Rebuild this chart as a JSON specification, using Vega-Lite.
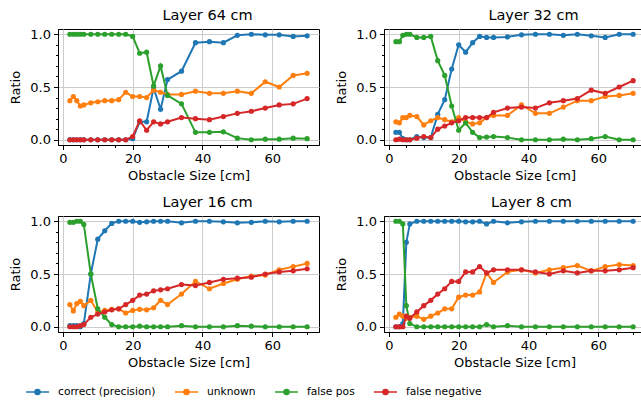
{
  "$schema": "https://vega.github.io/schema/vega-lite/v6.json",
  "padding": {"left": 9, "top": 7, "right": 0, "bottom": 0},
  "background": "white",
  "data": {"values": [
    {"p":"Layer 64 cm","x":2,"correct (precision)":0,"unknown":0.37,"false pos":1,"false negative":0},
    {"p":"Layer 64 cm","x":3,"correct (precision)":0,"unknown":0.41,"false pos":1,"false negative":0},
    {"p":"Layer 64 cm","x":4,"correct (precision)":0,"unknown":0.37,"false pos":1,"false negative":0},
    {"p":"Layer 64 cm","x":5,"correct (precision)":0,"unknown":0.32,"false pos":1,"false negative":0},
    {"p":"Layer 64 cm","x":6,"correct (precision)":0,"unknown":0.33,"false pos":1,"false negative":0},
    {"p":"Layer 64 cm","x":8,"correct (precision)":0,"unknown":0.35,"false pos":1,"false negative":0},
    {"p":"Layer 64 cm","x":10,"correct (precision)":0,"unknown":0.36,"false pos":1,"false negative":0},
    {"p":"Layer 64 cm","x":12,"correct (precision)":0,"unknown":0.37,"false pos":1,"false negative":0},
    {"p":"Layer 64 cm","x":14,"correct (precision)":0,"unknown":0.37,"false pos":1,"false negative":0},
    {"p":"Layer 64 cm","x":16,"correct (precision)":0,"unknown":0.38,"false pos":1,"false negative":0},
    {"p":"Layer 64 cm","x":18,"correct (precision)":0,"unknown":0.45,"false pos":1,"false negative":0},
    {"p":"Layer 64 cm","x":20,"correct (precision)":0.01,"unknown":0.41,"false pos":0.98,"false negative":0.03},
    {"p":"Layer 64 cm","x":22,"correct (precision)":0.17,"unknown":0.41,"false pos":0.82,"false negative":0.18},
    {"p":"Layer 64 cm","x":24,"correct (precision)":0.17,"unknown":0.40,"false pos":0.83,"false negative":0.09},
    {"p":"Layer 64 cm","x":26,"correct (precision)":0.49,"unknown":0.47,"false pos":0.51,"false negative":0.17},
    {"p":"Layer 64 cm","x":28,"correct (precision)":0.29,"unknown":0.45,"false pos":0.70,"false negative":0.15},
    {"p":"Layer 64 cm","x":30,"correct (precision)":0.57,"unknown":0.43,"false pos":0.42,"false negative":0.17},
    {"p":"Layer 64 cm","x":34,"correct (precision)":0.65,"unknown":0.43,"false pos":0.34,"false negative":0.21},
    {"p":"Layer 64 cm","x":38,"correct (precision)":0.92,"unknown":0.46,"false pos":0.07,"false negative":0.20},
    {"p":"Layer 64 cm","x":42,"correct (precision)":0.93,"unknown":0.44,"false pos":0.07,"false negative":0.19},
    {"p":"Layer 64 cm","x":46,"correct (precision)":0.92,"unknown":0.44,"false pos":0.075,"false negative":0.22},
    {"p":"Layer 64 cm","x":50,"correct (precision)":0.99,"unknown":0.46,"false pos":0.015,"false negative":0.25},
    {"p":"Layer 64 cm","x":54,"correct (precision)":1.0,"unknown":0.44,"false pos":0,"false negative":0.27},
    {"p":"Layer 64 cm","x":58,"correct (precision)":0.995,"unknown":0.55,"false pos":0.005,"false negative":0.30},
    {"p":"Layer 64 cm","x":62,"correct (precision)":0.995,"unknown":0.50,"false pos":0.005,"false negative":0.33},
    {"p":"Layer 64 cm","x":66,"correct (precision)":0.98,"unknown":0.61,"false pos":0.015,"false negative":0.34},
    {"p":"Layer 64 cm","x":70,"correct (precision)":0.985,"unknown":0.63,"false pos":0.01,"false negative":0.39},

    {"p":"Layer 32 cm","x":2,"correct (precision)":0.07,"unknown":0.17,"false pos":0.93,"false negative":0},
    {"p":"Layer 32 cm","x":3,"correct (precision)":0.07,"unknown":0.16,"false pos":0.93,"false negative":0.005},
    {"p":"Layer 32 cm","x":4,"correct (precision)":0.01,"unknown":0.21,"false pos":0.99,"false negative":0},
    {"p":"Layer 32 cm","x":5,"correct (precision)":0,"unknown":0.21,"false pos":1.0,"false negative":0},
    {"p":"Layer 32 cm","x":6,"correct (precision)":0,"unknown":0.23,"false pos":1.0,"false negative":0},
    {"p":"Layer 32 cm","x":8,"correct (precision)":0.03,"unknown":0.22,"false pos":0.97,"false negative":0.015},
    {"p":"Layer 32 cm","x":10,"correct (precision)":0.02,"unknown":0.14,"false pos":0.97,"false negative":0.03},
    {"p":"Layer 32 cm","x":12,"correct (precision)":0.02,"unknown":0.18,"false pos":0.98,"false negative":0.02},
    {"p":"Layer 32 cm","x":14,"correct (precision)":0.24,"unknown":0.21,"false pos":0.75,"false negative":0.10},
    {"p":"Layer 32 cm","x":16,"correct (precision)":0.38,"unknown":0.19,"false pos":0.61,"false negative":0.13},
    {"p":"Layer 32 cm","x":18,"correct (precision)":0.67,"unknown":0.17,"false pos":0.32,"false negative":0.16},
    {"p":"Layer 32 cm","x":20,"correct (precision)":0.90,"unknown":0.21,"false pos":0.09,"false negative":0.18},
    {"p":"Layer 32 cm","x":22,"correct (precision)":0.83,"unknown":0.17,"false pos":0.16,"false negative":0.21},
    {"p":"Layer 32 cm","x":24,"correct (precision)":0.92,"unknown":0.15,"false pos":0.07,"false negative":0.21},
    {"p":"Layer 32 cm","x":26,"correct (precision)":0.98,"unknown":0.16,"false pos":0.02,"false negative":0.21},
    {"p":"Layer 32 cm","x":28,"correct (precision)":0.97,"unknown":0.21,"false pos":0.025,"false negative":0.21},
    {"p":"Layer 32 cm","x":30,"correct (precision)":0.97,"unknown":0.23,"false pos":0.03,"false negative":0.26},
    {"p":"Layer 32 cm","x":34,"correct (precision)":0.975,"unknown":0.23,"false pos":0.02,"false negative":0.30},
    {"p":"Layer 32 cm","x":38,"correct (precision)":0.995,"unknown":0.33,"false pos":0,"false negative":0.31},
    {"p":"Layer 32 cm","x":42,"correct (precision)":1.0,"unknown":0.25,"false pos":0,"false negative":0.30},
    {"p":"Layer 32 cm","x":46,"correct (precision)":1.0,"unknown":0.25,"false pos":0,"false negative":0.35},
    {"p":"Layer 32 cm","x":50,"correct (precision)":0.99,"unknown":0.31,"false pos":0.005,"false negative":0.37},
    {"p":"Layer 32 cm","x":54,"correct (precision)":1.0,"unknown":0.37,"false pos":0,"false negative":0.39},
    {"p":"Layer 32 cm","x":58,"correct (precision)":0.985,"unknown":0.37,"false pos":0.01,"false negative":0.47},
    {"p":"Layer 32 cm","x":62,"correct (precision)":0.97,"unknown":0.41,"false pos":0.03,"false negative":0.44},
    {"p":"Layer 32 cm","x":66,"correct (precision)":1.0,"unknown":0.42,"false pos":0,"false negative":0.50},
    {"p":"Layer 32 cm","x":70,"correct (precision)":1.0,"unknown":0.44,"false pos":0,"false negative":0.56},

    {"p":"Layer 16 cm","x":2,"correct (precision)":0.01,"unknown":0.21,"false pos":0.99,"false negative":0},
    {"p":"Layer 16 cm","x":3,"correct (precision)":0.01,"unknown":0.15,"false pos":0.99,"false negative":0},
    {"p":"Layer 16 cm","x":4,"correct (precision)":0.01,"unknown":0.22,"false pos":1.0,"false negative":0},
    {"p":"Layer 16 cm","x":5,"correct (precision)":0,"unknown":0.24,"false pos":1.0,"false negative":0.01},
    {"p":"Layer 16 cm","x":6,"correct (precision)":0.03,"unknown":0.20,"false pos":0.97,"false negative":0.02},
    {"p":"Layer 16 cm","x":8,"correct (precision)":0.5,"unknown":0.25,"false pos":0.50,"false negative":0.09},
    {"p":"Layer 16 cm","x":10,"correct (precision)":0.83,"unknown":0.14,"false pos":0.17,"false negative":0.12},
    {"p":"Layer 16 cm","x":12,"correct (precision)":0.91,"unknown":0.155,"false pos":0.09,"false negative":0.14},
    {"p":"Layer 16 cm","x":14,"correct (precision)":0.98,"unknown":0.165,"false pos":0.02,"false negative":0.16},
    {"p":"Layer 16 cm","x":16,"correct (precision)":1.0,"unknown":0.17,"false pos":0,"false negative":0.17},
    {"p":"Layer 16 cm","x":18,"correct (precision)":1.0,"unknown":0.13,"false pos":0,"false negative":0.21},
    {"p":"Layer 16 cm","x":20,"correct (precision)":1.0,"unknown":0.155,"false pos":0,"false negative":0.25},
    {"p":"Layer 16 cm","x":22,"correct (precision)":0.99,"unknown":0.165,"false pos":0.005,"false negative":0.30},
    {"p":"Layer 16 cm","x":24,"correct (precision)":0.995,"unknown":0.16,"false pos":0,"false negative":0.31},
    {"p":"Layer 16 cm","x":26,"correct (precision)":1.0,"unknown":0.18,"false pos":0,"false negative":0.34},
    {"p":"Layer 16 cm","x":28,"correct (precision)":1.0,"unknown":0.25,"false pos":0,"false negative":0.35},
    {"p":"Layer 16 cm","x":30,"correct (precision)":1.0,"unknown":0.21,"false pos":0,"false negative":0.36},
    {"p":"Layer 16 cm","x":34,"correct (precision)":0.985,"unknown":0.31,"false pos":0.01,"false negative":0.40},
    {"p":"Layer 16 cm","x":38,"correct (precision)":1.0,"unknown":0.43,"false pos":0,"false negative":0.39},
    {"p":"Layer 16 cm","x":42,"correct (precision)":1.0,"unknown":0.36,"false pos":0,"false negative":0.42},
    {"p":"Layer 16 cm","x":46,"correct (precision)":0.995,"unknown":0.41,"false pos":0,"false negative":0.45},
    {"p":"Layer 16 cm","x":50,"correct (precision)":0.985,"unknown":0.45,"false pos":0.01,"false negative":0.46},
    {"p":"Layer 16 cm","x":54,"correct (precision)":0.99,"unknown":0.48,"false pos":0.005,"false negative":0.47},
    {"p":"Layer 16 cm","x":58,"correct (precision)":1.0,"unknown":0.49,"false pos":0,"false negative":0.50},
    {"p":"Layer 16 cm","x":62,"correct (precision)":0.995,"unknown":0.54,"false pos":0,"false negative":0.52},
    {"p":"Layer 16 cm","x":66,"correct (precision)":1.0,"unknown":0.57,"false pos":0,"false negative":0.53},
    {"p":"Layer 16 cm","x":70,"correct (precision)":1.0,"unknown":0.60,"false pos":0,"false negative":0.55},

    {"p":"Layer 8 cm","x":2,"correct (precision)":0,"unknown":0.09,"false pos":1,"false negative":0},
    {"p":"Layer 8 cm","x":3,"correct (precision)":0,"unknown":0.12,"false pos":1,"false negative":0},
    {"p":"Layer 8 cm","x":4,"correct (precision)":0.03,"unknown":0.10,"false pos":0.975,"false negative":0},
    {"p":"Layer 8 cm","x":5,"correct (precision)":0.80,"unknown":0.08,"false pos":0.20,"false negative":0.10},
    {"p":"Layer 8 cm","x":6,"correct (precision)":0.975,"unknown":0.09,"false pos":0.03,"false negative":0.08},
    {"p":"Layer 8 cm","x":8,"correct (precision)":1,"unknown":0.10,"false pos":0,"false negative":0.14},
    {"p":"Layer 8 cm","x":10,"correct (precision)":1,"unknown":0.07,"false pos":0,"false negative":0.20},
    {"p":"Layer 8 cm","x":12,"correct (precision)":1,"unknown":0.10,"false pos":0,"false negative":0.25},
    {"p":"Layer 8 cm","x":14,"correct (precision)":1,"unknown":0.13,"false pos":0,"false negative":0.31},
    {"p":"Layer 8 cm","x":16,"correct (precision)":1,"unknown":0.17,"false pos":0,"false negative":0.36},
    {"p":"Layer 8 cm","x":18,"correct (precision)":1,"unknown":0.17,"false pos":0,"false negative":0.43},
    {"p":"Layer 8 cm","x":20,"correct (precision)":1,"unknown":0.28,"false pos":0,"false negative":0.43},
    {"p":"Layer 8 cm","x":22,"correct (precision)":0.995,"unknown":0.30,"false pos":0,"false negative":0.52},
    {"p":"Layer 8 cm","x":24,"correct (precision)":0.995,"unknown":0.30,"false pos":0,"false negative":0.52},
    {"p":"Layer 8 cm","x":26,"correct (precision)":1.0,"unknown":0.33,"false pos":0,"false negative":0.57},
    {"p":"Layer 8 cm","x":28,"correct (precision)":0.975,"unknown":0.51,"false pos":0.02,"false negative":0.51},
    {"p":"Layer 8 cm","x":30,"correct (precision)":1.0,"unknown":0.42,"false pos":0,"false negative":0.54},
    {"p":"Layer 8 cm","x":34,"correct (precision)":0.985,"unknown":0.52,"false pos":0.01,"false negative":0.54},
    {"p":"Layer 8 cm","x":38,"correct (precision)":0.995,"unknown":0.54,"false pos":0,"false negative":0.54},
    {"p":"Layer 8 cm","x":42,"correct (precision)":1,"unknown":0.51,"false pos":0,"false negative":0.52},
    {"p":"Layer 8 cm","x":46,"correct (precision)":1,"unknown":0.54,"false pos":0,"false negative":0.50},
    {"p":"Layer 8 cm","x":50,"correct (precision)":1,"unknown":0.56,"false pos":0,"false negative":0.53},
    {"p":"Layer 8 cm","x":54,"correct (precision)":1,"unknown":0.58,"false pos":0,"false negative":0.51},
    {"p":"Layer 8 cm","x":58,"correct (precision)":1,"unknown":0.53,"false pos":0,"false negative":0.53},
    {"p":"Layer 8 cm","x":62,"correct (precision)":1,"unknown":0.57,"false pos":0,"false negative":0.53},
    {"p":"Layer 8 cm","x":66,"correct (precision)":1,"unknown":0.59,"false pos":0,"false negative":0.54},
    {"p":"Layer 8 cm","x":70,"correct (precision)":1,"unknown":0.58,"false pos":0,"false negative":0.56}
  ]},
  "transform": [{"fold": ["correct (precision)", "unknown", "false pos", "false negative"], "as": ["series", "v"]}],
  "columns": 2,
  "spacing": {"row": 11, "column": 15},
  "concat": [
    {
      "title": {"text": "Layer 64 cm", "dx": 19},
      "width": 261, "height": 116,
      "transform": [{"filter": "datum.p == 'Layer 64 cm'"}],
      "encoding": {
        "x": {"field": "x", "type": "quantitative", "scale": {"domain": [-1.4, 73.4], "nice": false, "zero": false},
          "axis": {"title": "Obstacle Size [cm]", "values": [0, 5, 10, 15, 20, 25, 30, 35, 40, 45, 50, 55, 60, 65, 70], "format": "d",
            "labelExpr": "datum.value % 20 == 0 ? datum.label : ''",
            "tickSize": {"condition": {"test": "datum.value % 20 == 0", "value": 4.5}, "value": 2.5},
            "gridOpacity": {"condition": {"test": "datum.value % 20 == 0", "value": 1}, "value": 0},
            "labelOverlap": false, "labelFlush": false}},
        "y": {"field": "v", "type": "quantitative", "scale": {"domain": [-0.05, 1.05], "nice": false, "zero": false},
          "axis": {"title": "Ratio", "titlePadding": 7, "values": [0, 0.1, 0.2, 0.3, 0.4, 0.5, 0.6, 0.7, 0.8, 0.9, 1], "format": ".1f",
            "labelExpr": "(datum.value == 0 || datum.value == 0.5 || datum.value == 1) ? datum.label : ''",
            "tickSize": {"condition": {"test": "datum.value == 0 || datum.value == 0.5 || datum.value == 1", "value": 4.5}, "value": 2.5},
            "gridOpacity": {"condition": {"test": "datum.value == 0 || datum.value == 0.5 || datum.value == 1", "value": 1}, "value": 0},
            "labelOverlap": false, "labelFlush": false}},
        "color": {"field": "series", "type": "nominal",
          "scale": {"domain": ["correct (precision)", "unknown", "false pos", "false negative"], "range": ["#1f77b4", "#ff7f0e", "#2ca02c", "#d62728"]},
          "legend": {"orient": "none", "legendX": -33, "legendY": 350, "direction": "horizontal", "title": null}}
      },
      "layer": [
        {"transform": [{"filter": "datum.series == 'correct (precision)'"}], "layer": [{"mark": {"type": "line", "strokeWidth": 2}}, {"mark": {"type": "point", "filled": true, "size": 27, "opacity": 1}}]},
        {"transform": [{"filter": "datum.series == 'unknown'"}], "layer": [{"mark": {"type": "line", "strokeWidth": 2}}, {"mark": {"type": "point", "filled": true, "size": 27, "opacity": 1}}]},
        {"transform": [{"filter": "datum.series == 'false pos'"}], "layer": [{"mark": {"type": "line", "strokeWidth": 2}}, {"mark": {"type": "point", "filled": true, "size": 27, "opacity": 1}}]},
        {"transform": [{"filter": "datum.series == 'false negative'"}], "layer": [{"mark": {"type": "line", "strokeWidth": 2}}, {"mark": {"type": "point", "filled": true, "size": 27, "opacity": 1}}]}
      ]
    },
    {
      "title": {"text": "Layer 32 cm", "dx": 19},
      "width": 261, "height": 116,
      "transform": [{"filter": "datum.p == 'Layer 32 cm'"}],
      "encoding": {
        "x": {"field": "x", "type": "quantitative", "scale": {"domain": [-1.4, 73.4], "nice": false, "zero": false},
          "axis": {"title": "Obstacle Size [cm]", "values": [0, 5, 10, 15, 20, 25, 30, 35, 40, 45, 50, 55, 60, 65, 70], "format": "d",
            "labelExpr": "datum.value % 20 == 0 ? datum.label : ''",
            "tickSize": {"condition": {"test": "datum.value % 20 == 0", "value": 4.5}, "value": 2.5},
            "gridOpacity": {"condition": {"test": "datum.value % 20 == 0", "value": 1}, "value": 0},
            "labelOverlap": false, "labelFlush": false}},
        "y": {"field": "v", "type": "quantitative", "scale": {"domain": [-0.05, 1.05], "nice": false, "zero": false},
          "axis": {"title": "Ratio", "titlePadding": 7, "values": [0, 0.1, 0.2, 0.3, 0.4, 0.5, 0.6, 0.7, 0.8, 0.9, 1], "format": ".1f",
            "labelExpr": "(datum.value == 0 || datum.value == 0.5 || datum.value == 1) ? datum.label : ''",
            "tickSize": {"condition": {"test": "datum.value == 0 || datum.value == 0.5 || datum.value == 1", "value": 4.5}, "value": 2.5},
            "gridOpacity": {"condition": {"test": "datum.value == 0 || datum.value == 0.5 || datum.value == 1", "value": 1}, "value": 0},
            "labelOverlap": false, "labelFlush": false}},
        "color": {"field": "series", "type": "nominal",
          "scale": {"domain": ["correct (precision)", "unknown", "false pos", "false negative"], "range": ["#1f77b4", "#ff7f0e", "#2ca02c", "#d62728"]},
          "legend": {"orient": "none", "legendX": -33, "legendY": 350, "direction": "horizontal", "title": null}}
      },
      "layer": [
        {"transform": [{"filter": "datum.series == 'correct (precision)'"}], "layer": [{"mark": {"type": "line", "strokeWidth": 2}}, {"mark": {"type": "point", "filled": true, "size": 27, "opacity": 1}}]},
        {"transform": [{"filter": "datum.series == 'unknown'"}], "layer": [{"mark": {"type": "line", "strokeWidth": 2}}, {"mark": {"type": "point", "filled": true, "size": 27, "opacity": 1}}]},
        {"transform": [{"filter": "datum.series == 'false pos'"}], "layer": [{"mark": {"type": "line", "strokeWidth": 2}}, {"mark": {"type": "point", "filled": true, "size": 27, "opacity": 1}}]},
        {"transform": [{"filter": "datum.series == 'false negative'"}], "layer": [{"mark": {"type": "line", "strokeWidth": 2}}, {"mark": {"type": "point", "filled": true, "size": 27, "opacity": 1}}]}
      ]
    },
    {
      "title": {"text": "Layer 16 cm", "dx": 19},
      "width": 261, "height": 116,
      "transform": [{"filter": "datum.p == 'Layer 16 cm'"}],
      "encoding": {
        "x": {"field": "x", "type": "quantitative", "scale": {"domain": [-1.4, 73.4], "nice": false, "zero": false},
          "axis": {"title": "Obstacle Size [cm]", "values": [0, 5, 10, 15, 20, 25, 30, 35, 40, 45, 50, 55, 60, 65, 70], "format": "d",
            "labelExpr": "datum.value % 20 == 0 ? datum.label : ''",
            "tickSize": {"condition": {"test": "datum.value % 20 == 0", "value": 4.5}, "value": 2.5},
            "gridOpacity": {"condition": {"test": "datum.value % 20 == 0", "value": 1}, "value": 0},
            "labelOverlap": false, "labelFlush": false}},
        "y": {"field": "v", "type": "quantitative", "scale": {"domain": [-0.05, 1.05], "nice": false, "zero": false},
          "axis": {"title": "Ratio", "titlePadding": 7, "values": [0, 0.1, 0.2, 0.3, 0.4, 0.5, 0.6, 0.7, 0.8, 0.9, 1], "format": ".1f",
            "labelExpr": "(datum.value == 0 || datum.value == 0.5 || datum.value == 1) ? datum.label : ''",
            "tickSize": {"condition": {"test": "datum.value == 0 || datum.value == 0.5 || datum.value == 1", "value": 4.5}, "value": 2.5},
            "gridOpacity": {"condition": {"test": "datum.value == 0 || datum.value == 0.5 || datum.value == 1", "value": 1}, "value": 0},
            "labelOverlap": false, "labelFlush": false}},
        "color": {"field": "series", "type": "nominal",
          "scale": {"domain": ["correct (precision)", "unknown", "false pos", "false negative"], "range": ["#1f77b4", "#ff7f0e", "#2ca02c", "#d62728"]},
          "legend": {"orient": "none", "legendX": -33, "legendY": 350, "direction": "horizontal", "title": null}}
      },
      "layer": [
        {"transform": [{"filter": "datum.series == 'correct (precision)'"}], "layer": [{"mark": {"type": "line", "strokeWidth": 2}}, {"mark": {"type": "point", "filled": true, "size": 27, "opacity": 1}}]},
        {"transform": [{"filter": "datum.series == 'unknown'"}], "layer": [{"mark": {"type": "line", "strokeWidth": 2}}, {"mark": {"type": "point", "filled": true, "size": 27, "opacity": 1}}]},
        {"transform": [{"filter": "datum.series == 'false pos'"}], "layer": [{"mark": {"type": "line", "strokeWidth": 2}}, {"mark": {"type": "point", "filled": true, "size": 27, "opacity": 1}}]},
        {"transform": [{"filter": "datum.series == 'false negative'"}], "layer": [{"mark": {"type": "line", "strokeWidth": 2}}, {"mark": {"type": "point", "filled": true, "size": 27, "opacity": 1}}]}
      ]
    },
    {
      "title": {"text": "Layer 8 cm", "dx": 17},
      "width": 261, "height": 116,
      "transform": [{"filter": "datum.p == 'Layer 8 cm'"}],
      "encoding": {
        "x": {"field": "x", "type": "quantitative", "scale": {"domain": [-1.4, 73.4], "nice": false, "zero": false},
          "axis": {"title": "Obstacle Size [cm]", "values": [0, 5, 10, 15, 20, 25, 30, 35, 40, 45, 50, 55, 60, 65, 70], "format": "d",
            "labelExpr": "datum.value % 20 == 0 ? datum.label : ''",
            "tickSize": {"condition": {"test": "datum.value % 20 == 0", "value": 4.5}, "value": 2.5},
            "gridOpacity": {"condition": {"test": "datum.value % 20 == 0", "value": 1}, "value": 0},
            "labelOverlap": false, "labelFlush": false}},
        "y": {"field": "v", "type": "quantitative", "scale": {"domain": [-0.05, 1.05], "nice": false, "zero": false},
          "axis": {"title": "Ratio", "titlePadding": 7, "values": [0, 0.1, 0.2, 0.3, 0.4, 0.5, 0.6, 0.7, 0.8, 0.9, 1], "format": ".1f",
            "labelExpr": "(datum.value == 0 || datum.value == 0.5 || datum.value == 1) ? datum.label : ''",
            "tickSize": {"condition": {"test": "datum.value == 0 || datum.value == 0.5 || datum.value == 1", "value": 4.5}, "value": 2.5},
            "gridOpacity": {"condition": {"test": "datum.value == 0 || datum.value == 0.5 || datum.value == 1", "value": 1}, "value": 0},
            "labelOverlap": false, "labelFlush": false}},
        "color": {"field": "series", "type": "nominal",
          "scale": {"domain": ["correct (precision)", "unknown", "false pos", "false negative"], "range": ["#1f77b4", "#ff7f0e", "#2ca02c", "#d62728"]},
          "legend": {"orient": "none", "legendX": -33, "legendY": 350, "direction": "horizontal", "title": null}}
      },
      "layer": [
        {"transform": [{"filter": "datum.series == 'correct (precision)'"}], "layer": [{"mark": {"type": "line", "strokeWidth": 2}}, {"mark": {"type": "point", "filled": true, "size": 27, "opacity": 1}}]},
        {"transform": [{"filter": "datum.series == 'unknown'"}], "layer": [{"mark": {"type": "line", "strokeWidth": 2}}, {"mark": {"type": "point", "filled": true, "size": 27, "opacity": 1}}]},
        {"transform": [{"filter": "datum.series == 'false pos'"}], "layer": [{"mark": {"type": "line", "strokeWidth": 2}}, {"mark": {"type": "point", "filled": true, "size": 27, "opacity": 1}}]},
        {"transform": [{"filter": "datum.series == 'false negative'"}], "layer": [{"mark": {"type": "line", "strokeWidth": 2}}, {"mark": {"type": "point", "filled": true, "size": 27, "opacity": 1}}]}
      ]
    }
  ],
  "config": {
    "font": "DejaVu Sans",
    "view": {"stroke": "black", "strokeWidth": 1},
    "title": {"font": "DejaVu Sans", "fontSize": 14.5, "fontWeight": "normal", "color": "black", "offset": 5, "anchor": "middle"},
    "axis": {
      "labelFont": "DejaVu Sans", "labelFontSize": 13, "labelColor": "black",
      "titleFont": "DejaVu Sans", "titleFontSize": 13, "titleFontWeight": "normal", "titleColor": "black",
      "domainColor": "black", "tickColor": "black", "gridColor": "#cccccc", "gridWidth": 1,
      "labelPadding": 3, "titlePadding": 4
    },
    "legend": {
      "symbolType": "M-1,0H1M-0.22,0A0.22,0.22,0,1,1,0.22,0A0.22,0.22,0,1,1,-0.22,0",
      "symbolSize": 529,
      "symbolStrokeWidth": 1.5,
      "labelFont": "DejaVu Sans", "labelFontSize": 10.7, "labelColor": "black",
      "labelOffset": 8, "columnPadding": 16
    }
  }
}
